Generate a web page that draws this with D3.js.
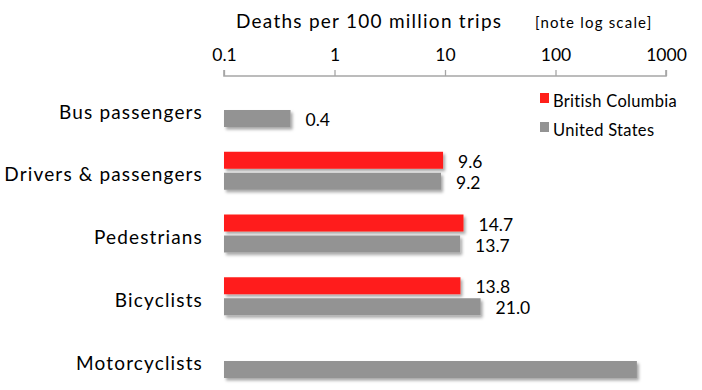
<!DOCTYPE html>
<html><head><meta charset="utf-8">
<script src="https://cdn.jsdelivr.net/npm/d3@7"></script>
<style>
html,body{margin:0;padding:0;background:#fff;}
svg{display:block;font-family:"Lato","Open Sans",sans-serif;}
</style></head>
<body>
<svg id="c" width="702" height="390"></svg>
<script>
const categories = ["Bus passengers","Drivers & passengers","Pedestrians","Bicyclists","Motorcyclists"];
const seriesNames = ["British Columbia","United States"];
const bcValues = [null, 9.6, 14.7, 13.8, null];
const usValues = [0.4, 9.2, 13.7, 21.0, 545];
const bcLabels = ["", "9.6", "14.7", "13.8", ""];
const usLabels = ["0.4", "9.2", "13.7", "21.0", ""];
const tickValues = [0.1, 1, 10, 100, 1000];
const tickLabels = ["0.1", "1", "10", "100", "1000"];
const colors = ["#ff1f1a", "#939393"];

const svg = d3.select("#c");
const defs = svg.append("defs");
const f = defs.append("filter").attr("id","sh").attr("x","-5%").attr("y","-30%").attr("width","115%").attr("height","190%");
f.append("feDropShadow").attr("dx",2).attr("dy",2.5).attr("stdDeviation",1.6).attr("flood-color","#000").attr("flood-opacity",0.35);

const x = d3.scaleLog().domain([0.1, 1000]).range([224, 666]);
const y = d3.scaleBand().domain(categories).range([89, 89 + 5*62.75]).paddingInner(0).paddingOuter(0);
const sub = d3.scaleBand().domain(seriesNames).range([0, 38]).paddingInner(4/21).paddingOuter(0);

// Title
svg.append("text").attr("x", 236).attr("y", 28).attr("font-size", 19).attr("letter-spacing", 1.25).attr("fill","#000")
  .text("Deaths per 100 million trips");
svg.append("text").attr("x", 535).attr("y", 28).attr("font-size", 15).attr("letter-spacing", 1.2).attr("fill","#000")
  .text("[note log scale]");

// Axis
const axis = d3.axisTop(x).tickValues(tickValues).tickFormat((d,i)=>tickLabels[i]).tickSize(6).tickSizeOuter(0);
const ag = svg.append("g").attr("transform","translate(0,76)").call(axis);
ag.select(".domain").attr("stroke","#a6a6a6").attr("stroke-width",1.6).attr("d", `M${x(0.1)},-6V0H${x(1000)}V-6`);
ag.selectAll(".tick line").attr("stroke","#a6a6a6").attr("stroke-width",1.3);
ag.selectAll(".tick text").attr("font-size",17.5).attr("fill","#000").attr("y",-15).attr("font-family","Lato,'Open Sans',sans-serif");

// Category labels
svg.append("g").selectAll("text").data(categories).join("text")
  .attr("x", 203).attr("y", d => y(d) + 19 + 10.5)
  .attr("text-anchor","end").attr("font-size", 19).attr("letter-spacing", 1.15).attr("fill","#000").text(d => d);

// Bars
const series = [
  {name: seriesNames[0], values: bcValues, labels: bcLabels, color: colors[0]},
  {name: seriesNames[1], values: usValues, labels: usLabels, color: colors[1]}
];
series.forEach(s => {
  const data = categories.map((c,i)=>({c, v: s.values[i], l: s.labels[i]})).filter(d => d.v != null);
  svg.append("g").attr("filter","url(#sh)").selectAll("rect").data(data).join("rect")
    .attr("x", x(0.1)).attr("y", d => y(d.c) + sub(s.name))
    .attr("width", d => x(d.v) - x(0.1)).attr("height", sub.bandwidth())
    .attr("fill", s.color);
  svg.append("g").selectAll("text").data(data.filter(d => d.l)).join("text")
    .attr("x", d => x(d.v) + 15).attr("y", d => y(d.c) + sub(s.name) + sub.bandwidth() - 1)
    .attr("font-size", 17.5).attr("fill","#000").text(d => d.l);
});

// Legend
const lg = svg.append("g");
seriesNames.forEach((n,i) => {
  lg.append("rect").attr("x", 540).attr("y", 93 + i*29).attr("width", 9).attr("height", 10).attr("fill", colors[i]);
  lg.append("text").attr("x", 553).attr("y", 107 + i*29).attr("font-size", 16.5).attr("letter-spacing", 0.3).attr("fill","#000").text(n);
});
</script>
</body></html>
